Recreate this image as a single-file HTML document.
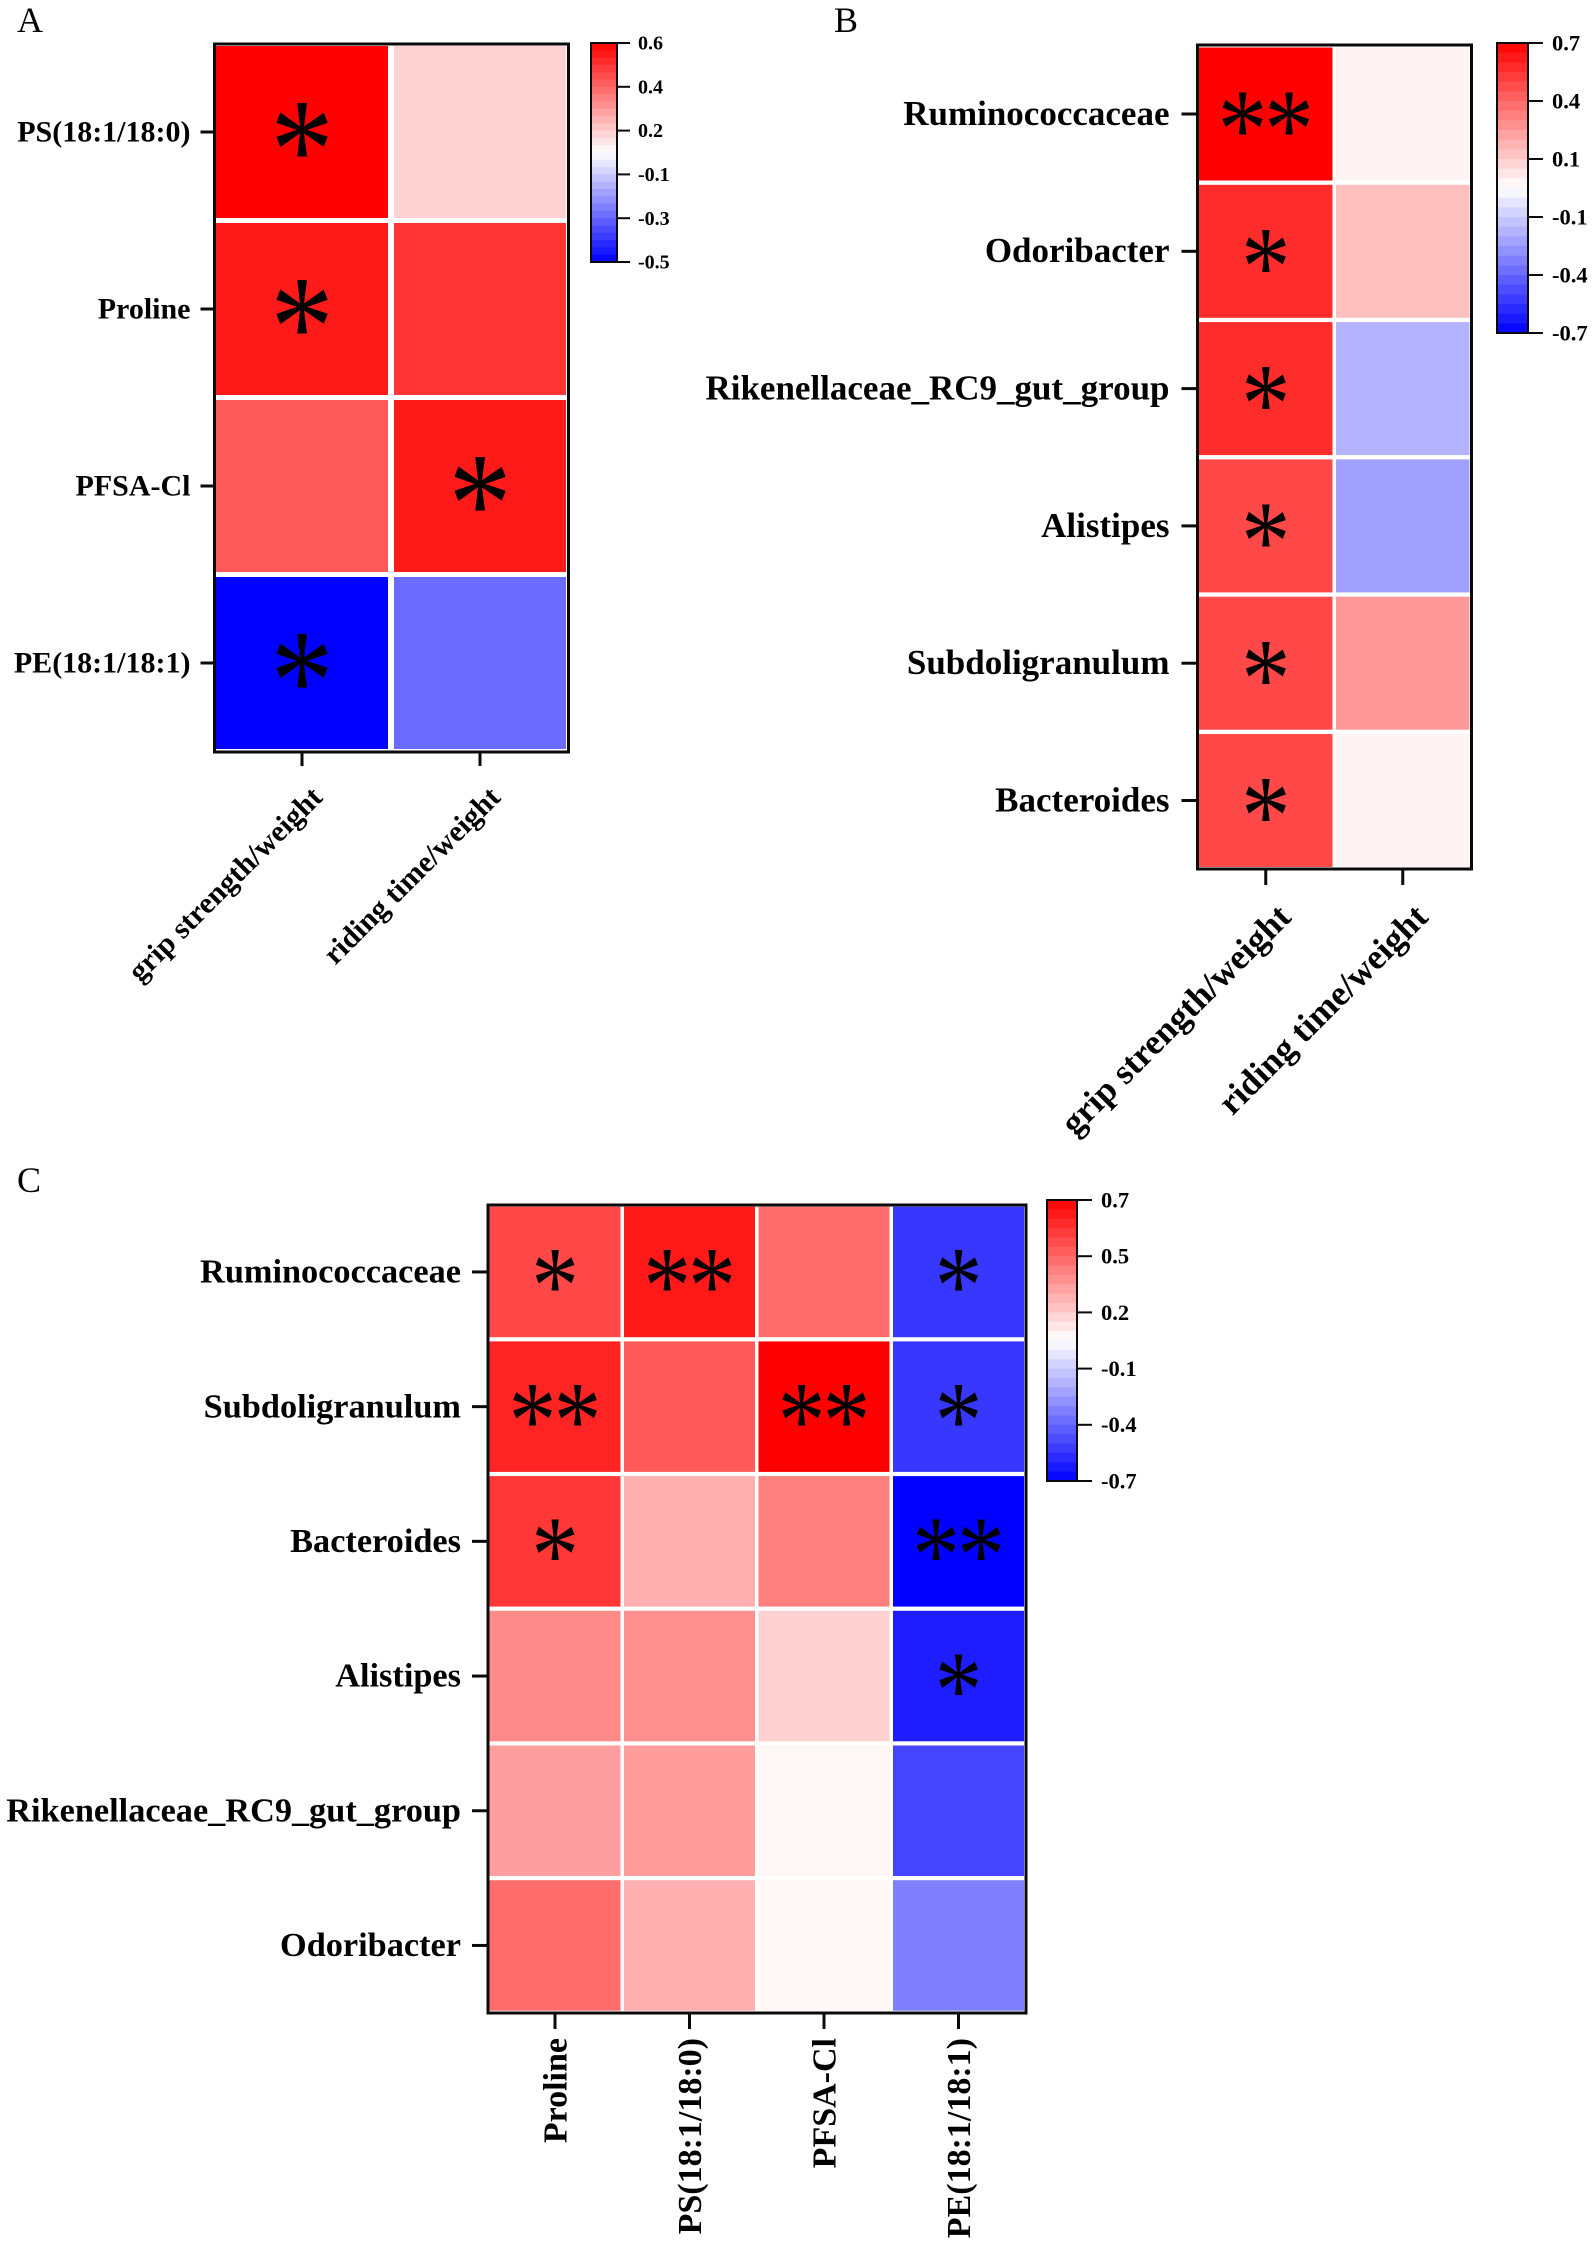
<!DOCTYPE html>
<html lang="en">
<head>
<meta charset="utf-8">
<title>Correlation heatmaps</title>
<style>
html,body{margin:0;padding:0;background:#fff;width:1595px;height:2246px;overflow:hidden}
svg{display:block}
text{font-family:"Liberation Serif",serif;fill:#000}
</style>
</head>
<body>
<svg id="figure" xmlns="http://www.w3.org/2000/svg" width="1595" height="2246" viewBox="0 0 1595 2246">
<rect x="0" y="0" width="1595" height="2246" fill="#fff"/>
<text x="17" y="32" font-size="36">A</text>
<text x="834" y="32" font-size="36">B</text>
<text x="17" y="1192" font-size="36">C</text>
</svg>
<script>
// Panel A data
const aRows = ["PS(18:1/18:0)", "Proline", "PFSA-Cl", "PE(18:1/18:1)"];
const aCols = ["grip strength/weight", "riding time/weight"];
const aValues = [[0.6, 0.15], [0.545, 0.485], [0.405, 0.545], [-0.5, -0.27]];
const aStars = [[1, 0], [1, 0], [0, 1], [1, 0]];
const aTicks = ["0.6", "0.4", "0.2", "-0.1", "-0.3", "-0.5"];

// Panel B data
const bRows = ["Ruminococcaceae", "Odoribacter", "Rikenellaceae_RC9_gut_group", "Alistipes", "Subdoligranulum", "Bacteroides"];
const bCols = ["grip strength/weight", "riding time/weight"];
const bValues = [[0.7, 0.03], [0.58, 0.175], [0.58, -0.21], [0.5, -0.26], [0.5, 0.28], [0.5, 0.03]];
const bStars = [[2, 0], [1, 0], [1, 0], [1, 0], [1, 0], [1, 0]];
const bTicks = ["0.7", "0.4", "0.1", "-0.1", "-0.4", "-0.7"];

// Panel C data
const cRows = ["Ruminococcaceae", "Subdoligranulum", "Bacteroides", "Alistipes", "Rikenellaceae_RC9_gut_group", "Odoribacter"];
const cCols = ["Proline", "PS(18:1/18:0)", "PFSA-Cl", "PE(18:1/18:1)"];
const cValues = [
  [0.5, 0.63, 0.4, -0.55],
  [0.6, 0.455, 0.7, -0.55],
  [0.55, 0.22, 0.355, -0.7],
  [0.32, 0.31, 0.13, -0.62],
  [0.265, 0.27, 0.025, -0.51],
  [0.4, 0.22, 0.025, -0.35]
];
const cStars = [[1, 2, 0, 1], [2, 0, 2, 1], [1, 0, 0, 2], [0, 0, 0, 1], [0, 0, 0, 0], [0, 0, 0, 0]];
const cTicks = ["0.7", "0.5", "0.2", "-0.1", "-0.4", "-0.7"];

const NS = "http://www.w3.org/2000/svg";
const svg = document.getElementById("figure");
const BAND_COUNT = 30;

function add(tag, attrs, text) {
  const el = document.createElementNS(NS, tag);
  for (const k in attrs) el.setAttribute(k, attrs[k]);
  if (text !== undefined) el.textContent = text;
  svg.appendChild(el);
  return el;
}

function slug(s) {
  return s.toLowerCase().replace(/[^a-z0-9]+/g, "-").replace(/^-|-$/g, "");
}

// Diverging blue-white-red scale over a panel's value domain.
function colorScale(min, max) {
  return function (v) {
    const pos = Math.max(0, Math.min(1, (v - min) / (max - min)));
    const s = Math.abs(pos - 0.5) * 2;
    const c = Math.round(255 * (1 - s));
    return pos >= 0.5 ? "rgb(255," + c + "," + c + ")" : "rgb(" + c + "," + c + ",255)";
  };
}

function drawHeatmap(p) {
  const color = colorScale(p.min, p.max);
  const xCenter = function (j) { return p.cellX + j * p.pitchX + p.cellW / 2; };
  const yCenter = function (i) { return p.cellY + i * p.pitchY + p.cellH / 2; };

  p.values.forEach(function (row, i) {
    row.forEach(function (v, j) {
      const cell = add("rect", {
        x: p.cellX + j * p.pitchX,
        y: p.cellY + i * p.pitchY,
        width: p.cellW,
        height: p.cellH,
        fill: color(v)
      });
      
      
    });
  });

  const frame = add("rect", {
    x: p.frameX,
    y: p.frameY,
    width: p.frameW,
    height: p.frameH,
    fill: "none",
    stroke: "#0a0a0a",
    "stroke-width": 3
  });
  
  

  p.stars.forEach(function (row, i) {
    row.forEach(function (n, j) {
      for (let k = 0; k < n; k++) {
        const dx = n === 2 ? (k - 0.5) * p.starGap : 0;
        const sx = xCenter(j) + dx;
        const sy = yCenter(i) + p.starShift + p.starSize * 0.47;
        const star = add("text", {
          transform: "translate(" + sx + "," + sy + ") scale(0.87,1)",
          "text-anchor": "middle",
          "font-size": p.starSize
        }, "*");
        
        
      }
    });
  });

  p.rows.forEach(function (label, i) {
    const y = yCenter(i);
    const tick = add("line", {
      x1: p.frameX - p.tickLen, x2: p.frameX, y1: y, y2: y,
      stroke: "#0a0a0a", "stroke-width": 3
    });
    
    
    const t = add("text", {
      x: p.frameX - p.labelGap,
      y: y + p.labelSize * 0.31,
      "text-anchor": "end",
      "font-weight": "bold",
      "font-size": p.labelSize
    }, label);
    
    
  });

  const bottom = p.frameY + p.frameH;
  p.cols.forEach(function (label, j) {
    const x = xCenter(j);
    const tick = add("line", {
      x1: x, x2: x, y1: bottom, y2: bottom + p.tickLen,
      stroke: "#0a0a0a", "stroke-width": 3
    });
    
    
    const lx = x + p.xLabelDx;
    const ly = bottom + p.xLabelDy;
    const t = add("text", {
      transform: "translate(" + lx + "," + ly + ") rotate(" + p.xLabelAngle + ")",
      "text-anchor": "end",
      "font-weight": "bold",
      "font-size": p.xLabelSize
    }, label);
    
    
  });

  // Colour bar
  const bandH = p.barH / BAND_COUNT;
  for (let b = 0; b < BAND_COUNT; b++) {
    const v = p.max - (b + 0.5) / BAND_COUNT * (p.max - p.min);
    const band = add("rect", {
      x: p.barX,
      y: p.barY + b * bandH,
      width: p.barW,
      height: bandH + 0.4,
      fill: color(v)
    });
    
    
  }
  const barFrame = add("rect", {
    x: p.barX, y: p.barY, width: p.barW, height: p.barH,
    fill: "none", stroke: "#0a0a0a", "stroke-width": 2
  });
  
  

  p.ticks.forEach(function (label, i) {
    const y = p.barY + i * p.barH / (p.ticks.length - 1);
    const tick = add("line", {
      x1: p.barX + p.barW, x2: p.barX + p.barW + p.barTick, y1: y, y2: y,
      stroke: "#0a0a0a", "stroke-width": 2
    });
    
    
    const t = add("text", {
      x: p.barX + p.barW + p.barTick + p.barLabelGap,
      y: y + p.barLabelSize * 0.33,
      "font-weight": "bold",
      "font-size": p.barLabelSize
    }, label);
    
    
  });
}

drawHeatmap({
  id: "panel-a", rows: aRows, cols: aCols, values: aValues, stars: aStars, ticks: aTicks,
  min: -0.5, max: 0.6,
  cellX: 216, cellY: 46, cellW: 172, cellH: 172, pitchX: 178, pitchY: 177,
  frameX: 214.5, frameY: 44, frameW: 354, frameH: 708,
  starSize: 146, starGap: 50, starShift: -2,
  tickLen: 14, labelGap: 24, labelSize: 30,
  xLabelDx: 22, xLabelDy: 47, xLabelAngle: -45, xLabelSize: 30,
  barX: 591, barY: 43, barW: 26, barH: 219, barTick: 13, barLabelGap: 8, barLabelSize: 20
});

drawHeatmap({
  id: "panel-b", rows: bRows, cols: bCols, values: bValues, stars: bStars, ticks: bTicks,
  min: -0.7, max: 0.7,
  cellX: 1199, cellY: 47.5, cellW: 133.5, cellH: 133, pitchX: 137, pitchY: 137.3,
  frameX: 1197.5, frameY: 45, frameW: 274, frameH: 824,
  starSize: 114, starGap: 46.5, starShift: 0,
  tickLen: 16, labelGap: 28, labelSize: 35,
  xLabelDx: 27, xLabelDy: 50, xLabelAngle: -45, xLabelSize: 35.5,
  barX: 1497, barY: 43, barW: 31, barH: 290, barTick: 15, barLabelGap: 9, barLabelSize: 22.5
});

drawHeatmap({
  id: "panel-c", rows: cRows, cols: cCols, values: cValues, stars: cStars, ticks: cTicks,
  min: -0.7, max: 0.7,
  cellX: 489.5, cellY: 1206.7, cellW: 131, cellH: 130.5, pitchX: 134.5, pitchY: 134.7,
  frameX: 488, frameY: 1205, frameW: 538, frameH: 808,
  starSize: 110, starGap: 45, starShift: -1,
  tickLen: 16, labelGap: 27, labelSize: 34.3,
  xLabelDx: 11.5, xLabelDy: 25, xLabelAngle: -90, xLabelSize: 34,
  barX: 1047, barY: 1200, barW: 30, barH: 281, barTick: 15, barLabelGap: 9, barLabelSize: 22.5
});
</script>
</body>
</html>
